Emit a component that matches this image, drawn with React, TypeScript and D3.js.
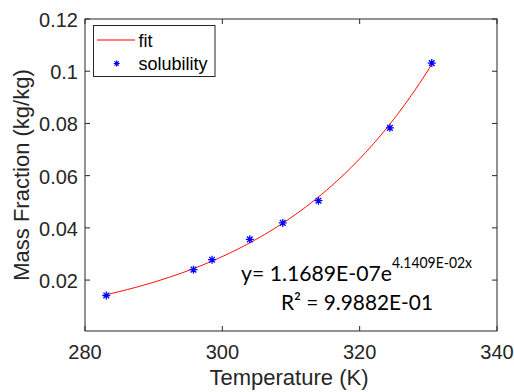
import React from "react";
import * as d3 from "d3";

const temperature = [283.1, 295.8, 298.5, 304.0, 308.8, 314.0, 324.4, 330.5];
const massFraction = [0.0141, 0.024, 0.0278, 0.0356, 0.0419, 0.0504, 0.0783, 0.1031];
const xTicks = [280, 300, 320, 340];
const yTicks = [0.02, 0.04, 0.06, 0.08, 0.1, 0.12];
const fitA = 1.1689e-7;
const fitB = 4.1409e-2;
const fitRange = [283.1, 330.6];
const eqMain = "y= 1.1689E-07e";
const eqSup = "4.1409E-02x";
const r2Text = "R² = 9.9882E-01";

const W = 514, H = 392;
const L = 85, R = 497, T = 19, B = 331;
const AX = "#262626";
const ARIAL = "'Liberation Sans', Arial, sans-serif";

function star(cx: number, cy: number, r: number) {
  const d = r * Math.SQRT1_2;
  return `M${cx - r},${cy}L${cx + r},${cy}M${cx},${cy - r}L${cx},${cy + r}M${cx - d},${cy - d}L${cx + d},${cy + d}M${cx - d},${cy + d}L${cx + d},${cy - d}`;
}

export default function App() {
  const x = d3.scaleLinear().domain([280, 340]).range([L, R]);
  const y = d3.scaleLinear().domain([0.0005, 0.12]).range([B, T]);
  const n = 200;
  const fitPts: [number, number][] = d3.range(n + 1).map((i) => {
    const t = fitRange[0] + ((fitRange[1] - fitRange[0]) * i) / n;
    return [t, fitA * Math.exp(fitB * t)];
  });
  const line = d3.line<[number, number]>().x((d) => x(d[0])).y((d) => y(d[1]));
  const tk = 5;
  return (
    <svg width={W} height={H} style={{ position: "absolute", left: 0, top: 0, background: "#fff" }}>
      <rect x={0} y={0} width={W} height={H} fill="#fff" />
      {/* fit */}
      <path d={line(fitPts) || ""} fill="none" stroke="#ff0000" strokeWidth={1} />
      {/* points */}
      {temperature.map((t, i) => (
        <path key={i} d={star(x(t), y(massFraction[i]), 4)} stroke="#0000ff" strokeWidth={1.3} fill="none" />
      ))}
      {/* axes box */}
      <rect x={L} y={T} width={R - L} height={B - T} fill="none" stroke={AX} strokeWidth={1} />
      {xTicks.map((t) => (
        <g key={"x" + t}>
          <line x1={x(t)} x2={x(t)} y1={B} y2={B - tk} stroke={AX} />
          <line x1={x(t)} x2={x(t)} y1={T} y2={T + tk} stroke={AX} />
          <text x={x(t)} y={359} textAnchor="middle" fontFamily={ARIAL} fontSize={20} fill={AX}>
            {t}
          </text>
        </g>
      ))}
      {yTicks.map((t) => (
        <g key={"y" + t}>
          <line x1={L} x2={L + tk} y1={y(t)} y2={y(t)} stroke={AX} />
          <line x1={R} x2={R - tk} y1={y(t)} y2={y(t)} stroke={AX} />
          <text x={78} y={y(t) + 8} textAnchor="end" fontFamily={ARIAL} fontSize={20} fill={AX}>
            {d3.format("~g")(t)}
          </text>
        </g>
      ))}
      <text x={(L + R) / 2 - 2} y={385} textAnchor="middle" fontFamily={ARIAL} fontSize={22} fill={AX}>
        Temperature (K)
      </text>
      <text
        transform={`translate(29,${(T + B) / 2}) rotate(-90)`}
        textAnchor="middle"
        fontFamily={ARIAL}
        fontSize={22}
        fill={AX}
      >
        Mass Fraction (kg/kg)
      </text>
      {/* legend */}
      <rect x={93.5} y={25.5} width={121.5} height={51} fill="#fff" stroke={AX} strokeWidth={1} />
      <line x1={97} x2={135} y1={40} y2={40} stroke="#ff0000" strokeWidth={1} />
      <text x={138.5} y={46.5} fontFamily={ARIAL} fontSize={18} fill="#000">fit</text>
      <path d={star(116.7, 63.5, 3)} stroke="#0000ff" strokeWidth={1.2} fill="none" />
      <text x={138.5} y={70} fontFamily={ARIAL} fontSize={18} fill="#000">solubility</text>
      {/* equation */}
      <text x={241} y={281} fontFamily="Lato, 'Open Sans', sans-serif" fontSize={22} fill="#000" textLength={151} lengthAdjust="spacingAndGlyphs">
        {eqMain}
      </text>
      <text x={392} y={268} fontFamily="Lato, 'Open Sans', sans-serif" fontSize={15} fill="#000" textLength={80} lengthAdjust="spacingAndGlyphs">
        {eqSup}
      </text>
      <text x={281} y={310} fontFamily="Lato, 'Open Sans', sans-serif" fontSize={22} fill="#000" textLength={152} lengthAdjust="spacingAndGlyphs">
        {r2Text}
      </text>
    </svg>
  );
}
